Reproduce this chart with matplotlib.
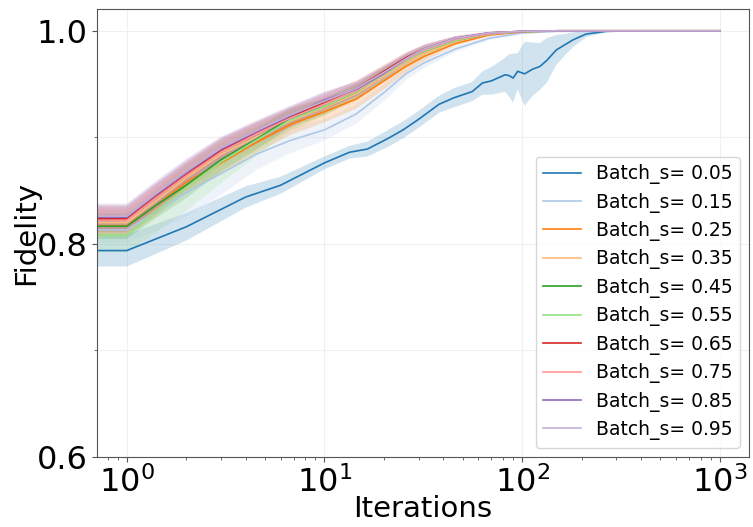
import matplotlib
matplotlib.use("Agg")
import matplotlib.pyplot as plt
from matplotlib.ticker import MultipleLocator
import numpy as np

# batch sizes and colours (tab20 order)
BATCH = [0.05, 0.15, 0.25, 0.35, 0.45, 0.55, 0.65, 0.75, 0.85, 0.95]
COLORS = ["#1f77b4", "#aec7e8", "#ff7f0e", "#ffbb78", "#2ca02c",
          "#98df8a", "#d62728", "#ff9896", "#9467bd", "#c5b0d5"]

# iteration grid for the fast runs
ITERS = [0, 1, 1.4, 2, 3, 4.5, 6.7, 10, 14.5, 20, 26, 32, 46, 68, 100, 150, 1000]

# slow run (batch 0.05) sampled more densely
ITERS_05 = [0, 1, 2, 4, 6, 10, 13.4, 16.5, 21, 25, 30, 38, 45, 56, 63, 70, 82, 86,
            90, 95, 103, 113, 123, 133, 149, 165, 181, 211, 267, 400, 1000]
MEAN_05 = [0.7937, 0.7937, 0.816, 0.844, 0.855, 0.876, 0.886, 0.889, 0.899, 0.907,
           0.917, 0.931, 0.937, 0.943, 0.951, 0.953, 0.9587, 0.958, 0.9556, 0.962,
           0.9596, 0.964, 0.9665, 0.972, 0.982, 0.987, 0.9915, 0.997, 0.9995, 1.0, 1.0]
STD_05 = [0.015, 0.015, 0.013, 0.010, 0.008, 0.006, 0.006, 0.007, 0.008, 0.008,
          0.008, 0.008, 0.009, 0.009, 0.011, 0.013, 0.016, 0.020, 0.023, 0.017,
          0.030, 0.025, 0.022, 0.021, 0.014, 0.010, 0.007, 0.003, 0.001, 0.0, 0.0]

MEAN_15 = [0.813, 0.813, 0.830, 0.848, 0.866, 0.884, 0.897, 0.907, 0.922, 0.942,
           0.960, 0.970, 0.983, 0.993, 0.998, 0.9995, 1.0]
MEAN_25 = [0.817, 0.817, 0.836, 0.858, 0.876, 0.895, 0.912, 0.924, 0.936, 0.953,
           0.967, 0.976, 0.988, 0.996, 0.999, 1.0, 1.0]
MEAN_35 = [0.820, 0.820, 0.840, 0.862, 0.884, 0.900, 0.915, 0.928, 0.941, 0.957,
           0.970, 0.979, 0.990, 0.997, 0.9993, 1.0, 1.0]
MEAN_45 = [0.8165, 0.8165, 0.836, 0.855, 0.879, 0.898, 0.918, 0.929, 0.943, 0.960,
           0.973, 0.981, 0.991, 0.997, 0.9993, 1.0, 1.0]
MEAN_55 = [0.808, 0.808, 0.830, 0.853, 0.877, 0.897, 0.916, 0.929, 0.943, 0.959,
           0.972, 0.981, 0.991, 0.997, 0.9993, 1.0, 1.0]
MEAN_65 = [0.8235, 0.8235, 0.844, 0.865, 0.888, 0.904, 0.919, 0.933, 0.946, 0.962,
           0.975, 0.983, 0.993, 0.998, 0.9995, 1.0, 1.0]
MEAN_75 = [0.822, 0.822, 0.843, 0.864, 0.886, 0.903, 0.918, 0.931, 0.944, 0.960,
           0.973, 0.982, 0.992, 0.997, 0.9994, 1.0, 1.0]
MEAN_85 = [0.825, 0.825, 0.846, 0.867, 0.889, 0.905, 0.920, 0.935, 0.945, 0.960,
           0.974, 0.983, 0.993, 0.998, 0.9995, 1.0, 1.0]
MEAN_95 = [0.826, 0.826, 0.847, 0.868, 0.890, 0.906, 0.921, 0.934, 0.946, 0.961,
           0.974, 0.983, 0.993, 0.998, 0.9995, 1.0, 1.0]

STD_BASE = [0.012, 0.012, 0.012, 0.012, 0.011, 0.010, 0.009, 0.008, 0.007, 0.006,
            0.005, 0.004, 0.002, 0.001, 0.0005, 0.0, 0.0]
STD_15 = [0.012, 0.012, 0.018, 0.022, 0.020, 0.015, 0.012, 0.010, 0.009, 0.008,
          0.006, 0.005, 0.003, 0.002, 0.001, 0.0005, 0.0]
STD_25 = [0.010, 0.010, 0.010, 0.010, 0.010, 0.010, 0.010, 0.010, 0.009, 0.008,
          0.006, 0.004, 0.002, 0.001, 0.0005, 0.0, 0.0]
STD_55 = [0.016, 0.016, 0.020, 0.022, 0.020, 0.015, 0.010, 0.008, 0.007, 0.006,
          0.005, 0.004, 0.002, 0.001, 0.0005, 0.0, 0.0]

FAST_RUNS = [
    (MEAN_15, STD_15), (MEAN_25, STD_25), (MEAN_35, STD_BASE), (MEAN_45, STD_BASE),
    (MEAN_55, STD_55), (MEAN_65, STD_BASE), (MEAN_75, STD_BASE), (MEAN_85, STD_BASE),
    (MEAN_95, STD_BASE),
]


def main() -> None:
    fig = plt.figure(figsize=(7.53, 5.27), dpi=100)
    ax = fig.add_axes([0.129, 0.133, 0.866, 0.850])

    runs = [(ITERS_05, MEAN_05, STD_05)] + [(ITERS, m, s) for m, s in FAST_RUNS]
    for (x, mean, std), batch, color in zip(runs, BATCH, COLORS):
        x = np.asarray(x, dtype=float)
        mean = np.asarray(mean)
        std = np.asarray(std)
        ax.plot(x, mean, color=color, lw=1.2, label=f"Batch_s= {batch:.2f}")
        ax.fill_between(x, mean - std, mean + std, color=color, alpha=0.2, lw=0)

    ax.set_xscale("log")
    ax.set_xlim(0.708, 1410)
    ax.set_ylim(0.6, 1.0205)
    ax.yaxis.set_major_locator(MultipleLocator(0.2))
    ax.yaxis.set_minor_locator(MultipleLocator(0.1))
    ax.grid(True, which="major", color="#f0f0f0", lw=0.8)
    ax.grid(True, which="minor", axis="y", color="#f0f0f0", lw=0.8)
    ax.set_axisbelow(True)

    for spine in ax.spines.values():
        spine.set_color("#555555")
    ax.tick_params(axis="both", which="major", labelsize=23, colors="#555555",
                   labelcolor="black")
    ax.tick_params(axis="both", which="minor", colors="#555555")

    ax.set_xlabel("Iterations", fontsize=21, labelpad=-3)
    ax.set_ylabel("Fidelity", fontsize=21, labelpad=-3)
    ax.legend(loc="lower right", fontsize=13.5, labelspacing=0.45)

    fig.savefig("out.png", dpi=100)
    plt.close(fig)


if __name__ == "__main__":
    main()
